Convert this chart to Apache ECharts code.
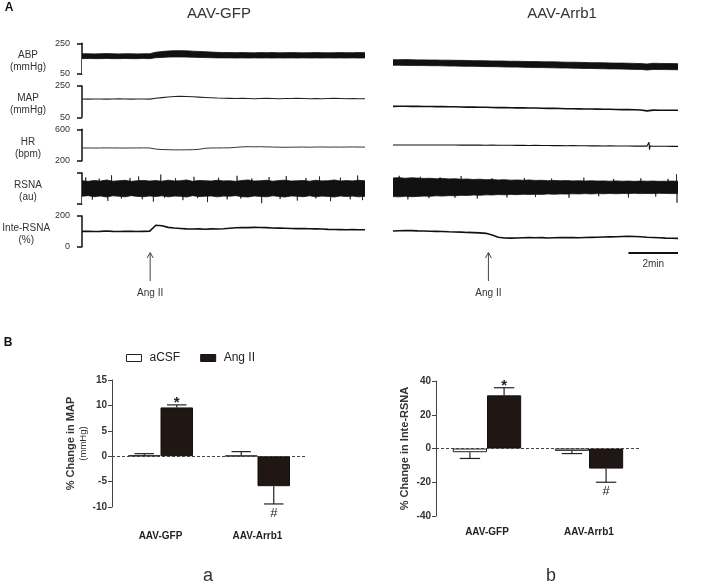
<!DOCTYPE html>
<html><head><meta charset="utf-8">
<script src="https://cdn.jsdelivr.net/npm/echarts@6/dist/echarts.min.js"></script>
<style>html,body{margin:0;padding:0;background:#fff}#c{width:708px;height:585px}</style>
</head><body><div id="c"></div>
<script>
// ---------- Part A: recorded traces (time in min) ----------
const T = [0,0.25,0.5,0.75,1,1.25,1.5,1.75,2,2.25,2.5,2.75,
           3,3.25,3.5,3.75,4,4.25,4.5,4.75,5,5.25,5.5,5.75,
           6,6.25,6.5,6.75,7,7.25,7.5,7.75,8,8.25,8.5,8.75,
           9,9.25,9.5,9.75,10,10.25,10.5,10.75,11,11.25,11.5];
const angIITimeGFP = 2.77;
const angIITimeArrb1 = 3.85;
const scaleBarMin = 2;

// AAV-GFP
const gfpSys = [182,182,181,182,183,182,181,182,182,181,182,182,
                192,196,200,202,202,201,199,197,195,193,191,190,
                190,189,190,189,188,190,189,190,188,189,190,189,
                188,189,190,189,188,189,190,189,189,190,189];
const gfpDia = [150,151,150,150,151,150,150,151,150,150,151,150,
                156,158,160,161,161,160,159,158,157,156,155,155,
                155,154,155,154,155,154,155,154,155,154,155,154,
                155,154,155,154,155,154,155,154,155,154,155];
const gfpMAP = [167,166,167,167,166,167,168,167,166,167,167,166,
                172,176,180,183,184,183,181,179,177,175,173,172,
                171,170,171,170,169,170,171,170,169,170,170,171,
                170,169,170,169,170,171,170,169,170,169,169];
const gfpHR  = [362,362,361,362,363,362,362,361,362,362,363,362,
                348,342,340,338,338,339,340,345,358,362,362,363,
                364,370,376,378,377,378,376,374,372,371,372,373,
                374,372,374,375,373,374,373,374,375,374,373];
const gfpRsnaHi = [1.50,1.46,1.52,1.48,1.55,1.47,1.50,1.53,1.46,1.50,1.52,1.48,
                   1.51,1.47,1.54,1.49,1.50,1.55,1.46,1.52,1.50,1.48,1.53,1.49,
                   1.50,1.46,1.52,1.55,1.48,1.50,1.53,1.47,1.51,1.54,1.48,1.50,
                   1.52,1.47,1.53,1.49,1.50,1.55,1.48,1.51,1.49,1.53,1.50];
const gfpRsnaLo = [0.50,0.54,0.47,0.52,0.45,0.53,0.50,0.46,0.54,0.49,0.47,0.52,
                   0.48,0.53,0.46,0.51,0.50,0.45,0.54,0.48,0.50,0.52,0.46,0.51,
                   0.50,0.54,0.47,0.45,0.52,0.49,0.46,0.53,0.49,0.45,0.52,0.50,
                   0.47,0.53,0.46,0.51,0.49,0.45,0.52,0.48,0.51,0.46,0.50];
const gfpSpikeT = [0.15,0.42,0.7,1.05,1.2,1.6,1.95,2.3,2.45,2.9,3.2,3.35,3.8,4.1,4.55,
                   4.7,5.1,5.55,5.9,6.3,6.45,6.9,7.3,7.6,8.05,8.3,8.75,9.1,9.5,9.65,
                   10.1,10.5,10.9,11.2,11.4];
const gfpSpikeV = [1.72,0.28,1.64,0.20,1.85,0.35,1.68,1.78,0.30,0.15,1.90,0.40,1.66,0.25,1.75,
                   0.38,0.12,1.70,0.30,1.82,0.35,1.65,0.05,1.74,0.32,1.80,0.22,1.68,0.36,1.78,
                   0.18,1.70,0.30,1.84,0.25];
const gfpInte = [100,101,99,100,102,100,99,101,100,99,100,101,
                 140,136,126,122,119,116,115,116,114,116,115,117,
                 120,123,125,124,126,125,124,122,121,120,119,118,
                 118,117,116,115,113,112,111,110,111,110,110];

// AAV-Arrb1
const arrSys = [143,143,144,143,142,142,141,141,140,140,139,139,
                138,137,137,136,135,135,134,133,133,132,131,131,
                130,129,129,128,127,127,126,125,124,124,123,122,
                121,121,120,119,118,115,120,119,118,118,117];
const arrDia = [107,107,106,106,105,105,104,104,103,102,102,101,
                100,100,99,98,98,97,96,95,95,94,93,92,
                92,91,90,89,89,88,87,86,86,85,84,83,
                83,82,81,80,80,76,80,79,79,78,78];
const arrMAP = [120,121,121,120,120,119,119,118,118,117,117,116,
                115,115,114,114,113,112,112,111,110,110,109,109,
                108,107,107,106,105,105,104,103,103,102,101,101,
                100,99,99,98,97,91,96,95,95,95,95];
const arrHR  = [400,400,400,400,400,400,400,400,400,400,400,399,
                399,398,399,397,398,396,397,396,395,396,394,395,
                393,394,392,393,391,392,390,391,389,390,388,389,
                387,388,387,386,386,386,385,385,384,383,383];
const arrHRSpikeT = [10.31,10.33,10.35,10.37];
const arrHRSpikeV = [386,434,340,386];
const arrRsnaHi = [1.68,1.70,1.66,1.69,1.67,1.65,1.66,1.63,1.65,1.62,1.63,1.60,
                   1.61,1.58,1.60,1.57,1.58,1.55,1.57,1.54,1.55,1.53,1.55,1.52,
                   1.53,1.50,1.52,1.50,1.51,1.49,1.50,1.48,1.50,1.48,1.49,1.47,
                   1.49,1.47,1.48,1.46,1.48,1.47,1.48,1.46,1.47,1.48,1.47];
const arrRsnaLo = [0.48,0.46,0.50,0.47,0.49,0.51,0.50,0.53,0.51,0.54,0.53,0.56,
                   0.55,0.58,0.56,0.59,0.58,0.61,0.59,0.62,0.60,0.63,0.61,0.63,
                   0.62,0.65,0.63,0.65,0.64,0.66,0.65,0.67,0.65,0.67,0.66,0.68,
                   0.66,0.68,0.67,0.69,0.67,0.68,0.67,0.69,0.68,0.67,0.68];
const arrSpikeT = [0.25,0.6,1.1,1.45,1.9,2.5,2.75,3.4,4.0,4.6,5.3,5.75,6.4,7.1,7.7,8.3,
                   8.9,9.5,10.0,10.6,11.1,11.44,11.46];
const arrSpikeV = [1.82,0.30,1.76,0.38,1.72,0.40,1.80,0.35,1.66,0.42,1.68,0.45,1.64,0.40,1.70,0.50,
                   1.62,0.42,1.66,0.48,1.62,1.92,0.08];
const arrInte = [102,104,106,105,103,102,101,100,99,97,96,95,
                 93,92,90,87,76,62,57,56,57,58,59,58,
                 59,57,58,59,60,59,58,60,61,62,63,64,
                 65,66,67,66,65,62,60,58,56,55,54];

// ---------- Part B: bar charts ----------
const groups = ['AAV-GFP','AAV-Arrb1'];
const mapACSF = [0.15, 0.1];
const mapACSFsem = [0.35, 0.8];
const mapAngII = [9.6, -5.9];
const mapAngIIsem = [0.5, 3.5];
const rsnaACSF = [-2.2, -1.4];
const rsnaACSFsem = [3.7, 1.6];
const rsnaAngII = [31.5, -11.9];
const rsnaAngIIsem = [4.5, 8.1];
const angIIMarks = ['*', '#'];
const mapTicks = {min:-10, max:15, step:5};
const rsnaTicks = {min:-40, max:40, step:20};

// ---------- build ----------
const FONT = 'Liberation Sans, Arial, Helvetica, sans-serif';
const INK = '#111';
const chart = echarts.init(document.getElementById('c'), null, {renderer:'canvas'});

const rows = [
  {top:43.3, h:30.7, n1:'ABP', n2:'(mmHg)', min:50, max:250, ticks:[50,250], labels:true},
  {top:86, h:31.3, n1:'MAP', n2:'(mmHg)', min:50, max:250, ticks:[50,250], labels:true},
  {top:129.3, h:31.4, n1:'HR', n2:'(bpm)', min:200, max:600, ticks:[200,600], labels:true},
  {top:173, h:31, n1:'RSNA', n2:'(au)', min:0, max:2, ticks:[0,2], labels:false},
  {top:216, h:30.7, n1:'Inte-RSNA', n2:'(%)', min:0, max:200, ticks:[0,200], labels:true}
];
const grids = [], xAxes = [], yAxes = [], series = [];
rows.forEach((r) => {
  grids.push({left:82, top:r.top, width:283, height:r.h});
  xAxes.push({type:'value', gridIndex:grids.length-1, min:0, max:11.5, show:false});
  yAxes.push({type:'value', gridIndex:grids.length-1, min:r.min, max:r.max, offset:5,
    axisLine:{show:true, lineStyle:{color:INK, width:1.5}},
    axisTick:{show:true, length:5, customValues:r.ticks, lineStyle:{color:INK, width:1.5}},
    axisLabel:{show:r.labels, customValues:r.ticks, fontSize:9, color:'#333', fontFamily:FONT, margin:7},
    splitLine:{show:false},
    name:'{g| }\n{n|' + r.n1 + '}\n{n|' + r.n2 + '}', nameLocation:'middle', nameRotate:0, nameGap:49,
    nameTextStyle:{align:'center', verticalAlign:'middle', color:'#333', fontFamily:FONT,
      rich:{g:{fontSize:4, lineHeight:6}, n:{fontSize:10, lineHeight:12, color:'#333', fontFamily:FONT, align:'center'}}}
  });
});
rows.forEach((r) => {
  grids.push({left:393, top:r.top, width:285, height:r.h});
  xAxes.push({type:'value', gridIndex:grids.length-1, min:0, max:11.5, show:false});
  yAxes.push({type:'value', gridIndex:grids.length-1, min:r.min, max:r.max, show:false});
});

const zip = (a) => T.map((t,i) => [t, a[i]]);
function lineS(idx, data, w, color){
  return {type:'line', xAxisIndex:idx, yAxisIndex:idx, data, showSymbol:false, symbol:'none',
    silent:true, lineStyle:{color:color||INK, width:w}, animation:false};
}
// band between lower and upper envelope: black area under the upper edge,
// then a white area under the lower edge drawn on top of it
function bandS(idx, lo, hi){
  return [
    {type:'line', xAxisIndex:idx, yAxisIndex:idx, data:zip(hi), symbol:'none', silent:true, z:2,
     lineStyle:{color:INK, width:0.8}, areaStyle:{color:INK, opacity:1, origin:'start'}, animation:false},
    {type:'line', xAxisIndex:idx, yAxisIndex:idx, data:zip(lo), symbol:'none', silent:true, z:3,
     lineStyle:{color:INK, width:0.8}, areaStyle:{color:'#fff', opacity:1, origin:'start'}, animation:false}
  ];
}
// isolated spikes of the raw nerve signal, drawn as thin vertical strokes from the band centre
function spikeS(idx, ts, vs, centre){
  const d = [];
  ts.forEach((t,i) => { d.push([t, centre]); d.push([t, vs[i]]); d.push([t + 0.01, centre]); });
  return {type:'line', xAxisIndex:idx, yAxisIndex:idx, data:d, symbol:'none', silent:true, z:4,
    lineStyle:{color:INK, width:0.7}, animation:false};
}
// left panel
series.push(...bandS(0, gfpDia, gfpSys));
series.push(lineS(1, zip(gfpMAP), 1.1, '#222'));
series.push(lineS(2, zip(gfpHR), 1, '#333'));
series.push(...bandS(3, gfpRsnaLo, gfpRsnaHi));
series.push(spikeS(3, gfpSpikeT, gfpSpikeV, 1));
series.push(lineS(4, zip(gfpInte), 1.6, INK));
// right panel
series.push(...bandS(5, arrDia, arrSys));
series.push(lineS(6, zip(arrMAP), 1.6, INK));
const hrR = zip(arrHR).concat(arrHRSpikeT.map((t,i)=>[t, arrHRSpikeV[i]])).sort((a,b)=>a[0]-b[0]);
series.push(lineS(7, hrR, 1.1, INK));
series.push(...bandS(8, arrRsnaLo, arrRsnaHi));
series.push(spikeS(8, arrSpikeT, arrSpikeV, 1.07));
series.push(lineS(9, zip(arrInte), 1.6, INK));

// bar charts
const barGridDefs = [
  {left:112, top:380, width:194, height:127, t:mapTicks, labelMargin:24,
   name:'{t|% Change in MAP}\n{s|(mmHg)}', nameGap:20,
   a:mapACSF, as:mapACSFsem, b:mapAngII, bs:mapAngIIsem},
  {left:436, top:381, width:204, height:135, t:rsnaTicks, labelMargin:11,
   name:'{t|% Change in Inte-RSNA}', nameGap:24,
   a:rsnaACSF, as:rsnaACSFsem, b:rsnaAngII, bs:rsnaAngIIsem}
];
function errSeries(gi, vals, sems, side, marks){
  return {type:'custom', xAxisIndex:gi, yAxisIndex:gi, z:5, silent:true, animation:false,
    data: vals.map((v,i)=>[i, v, sems[i]]),
    renderItem(params, api){
      const i = api.value(0), v = api.value(1), e = api.value(2);
      const band = api.size([1,0])[0];
      const base = api.coord([i, v]);
      const x = base[0] + side*band*0.1675;
      const dir = v >= 0 ? 1 : -1;
      const end = api.coord([i, v + dir*e]);
      const cw = band*0.1;
      const ch = [
        {type:'line', shape:{x1:x, y1:base[1], x2:x, y2:end[1]}, style:{stroke:'#222', lineWidth:1.2}},
        {type:'line', shape:{x1:x-cw, y1:end[1], x2:x+cw, y2:end[1]}, style:{stroke:'#222', lineWidth:1.2}}
      ];
      const m = marks ? marks[params.dataIndex] : '';
      if (m) {
        ch.push({type:'text', x:x, y: dir>0 ? end[1]-2 : end[1]+9,
          style:{text:m, fontSize: m==='*' ? 15 : 13, fontFamily:FONT, fill:'#222',
                 align:'center', verticalAlign:'middle', fontWeight: m==='*'?'bold':'normal'}});
      }
      return {type:'group', children:ch};
    }
  };
}
barGridDefs.forEach((d) => {
  const gi = grids.length;
  grids.push({left:d.left, top:d.top, width:d.width, height:d.height});
  xAxes.push({type:'category', gridIndex:gi, data:groups,
    axisLine:{show:false}, axisTick:{show:false},
    axisLabel:{fontSize:10, fontWeight:'bold', color:'#222', fontFamily:FONT, margin:d.labelMargin}});
  yAxes.push({type:'value', gridIndex:gi, min:d.t.min, max:d.t.max, interval:d.t.step,
    axisLine:{show:true, lineStyle:{color:'#444', width:1}},
    axisTick:{show:true, length:4, lineStyle:{color:'#444'}},
    axisLabel:{fontSize:10, fontWeight:'bold', color:'#333', fontFamily:FONT, margin:5},
    splitLine:{show:false},
    name:d.name, nameLocation:'middle', nameRotate:90, nameGap:d.nameGap,
    nameTextStyle:{fontFamily:FONT, color:'#333',
      rich:{t:{fontSize:11, fontWeight:'bold', fontFamily:FONT, color:'#333', lineHeight:14},
            s:{fontSize:9.5, fontFamily:FONT, color:'#333', lineHeight:12}}}
  });
  series.push({type:'bar', name:'aCSF', xAxisIndex:gi, yAxisIndex:gi, data:d.a,
    barWidth:'33.5%', barGap:'0%', animation:false, silent:true,
    itemStyle:{color:'#fff', borderColor:'#222', borderWidth:1},
    markLine:{silent:true, symbol:'none', animation:false, label:{show:false},
      lineStyle:{type:[3,2], color:'#444', width:1}, data:[{yAxis:0}]}});
  series.push({type:'bar', name:'Ang II', xAxisIndex:gi, yAxisIndex:gi, data:d.b,
    barWidth:'33.5%', barGap:'0%', animation:false, silent:true,
    itemStyle:{color:'#201614', borderColor:'#111', borderWidth:1}});
  series.push(errSeries(gi, d.a, d.as, -1, null));
  series.push(errSeries(gi, d.b, d.bs, 1, angIIMarks));
});

chart.setOption({
  animation:false,
  textStyle:{fontFamily:FONT},
  grid:grids, xAxis:xAxes, yAxis:yAxes, series:series,
  legend:{left:121, top:347, itemWidth:15, itemHeight:7, itemGap:20, icon:'rect', selectedMode:false,
    textStyle:{fontSize:12, color:'#222', fontFamily:FONT, padding:[0,0,0,3]},
    data:[{name:'aCSF', itemStyle:{color:'#fff', borderColor:'#222', borderWidth:1}},
          {name:'Ang II', itemStyle:{color:'#201614', borderColor:'#111', borderWidth:1}}]}
});

// annotations positioned through the axes' own scales
const xL = chart.convertToPixel({xAxisIndex:4}, angIITimeGFP);
const xR = chart.convertToPixel({xAxisIndex:9}, angIITimeArrb1);
const sb2 = chart.convertToPixel({xAxisIndex:9}, 11.5);
const sb1 = chart.convertToPixel({xAxisIndex:9}, 11.5 - scaleBarMin);
const txt = (x, y, s, size, extra) => ({type:'text', x, y,
  style:Object.assign({text:s, fontSize:size, fontFamily:FONT, fill:'#333', align:'center', verticalAlign:'middle'}, extra||{})});
const arrow = (x) => ({type:'group', children:[
  {type:'line', shape:{x1:x, y1:281, x2:x, y2:253}, style:{stroke:'#444', lineWidth:1}},
  {type:'polyline', shape:{points:[[x-3,258],[x,252.5],[x+3,258]]}, style:{stroke:'#444', lineWidth:1, fill:null}}
]});
chart.setOption({graphic:[
  txt(9, 8, 'A', 12, {fontWeight:'bold', fill:'#111'}),
  txt(219, 14, 'AAV-GFP', 15),
  txt(562, 14, 'AAV-Arrb1', 15),
  arrow(xL), arrow(xR),
  txt(xL, 293, 'Ang II', 10),
  txt(xR, 293, 'Ang II', 10),
  {type:'line', shape:{x1:sb1, y1:253, x2:sb2, y2:253}, style:{stroke:'#111', lineWidth:2}},
  txt((sb1+sb2)/2, 264, scaleBarMin + 'min', 10),
  txt(8, 343, 'B', 12, {fontWeight:'bold', fill:'#111'}),
  txt(208, 576, 'a', 18),
  txt(551, 576, 'b', 18)
]});
</script></body></html>
